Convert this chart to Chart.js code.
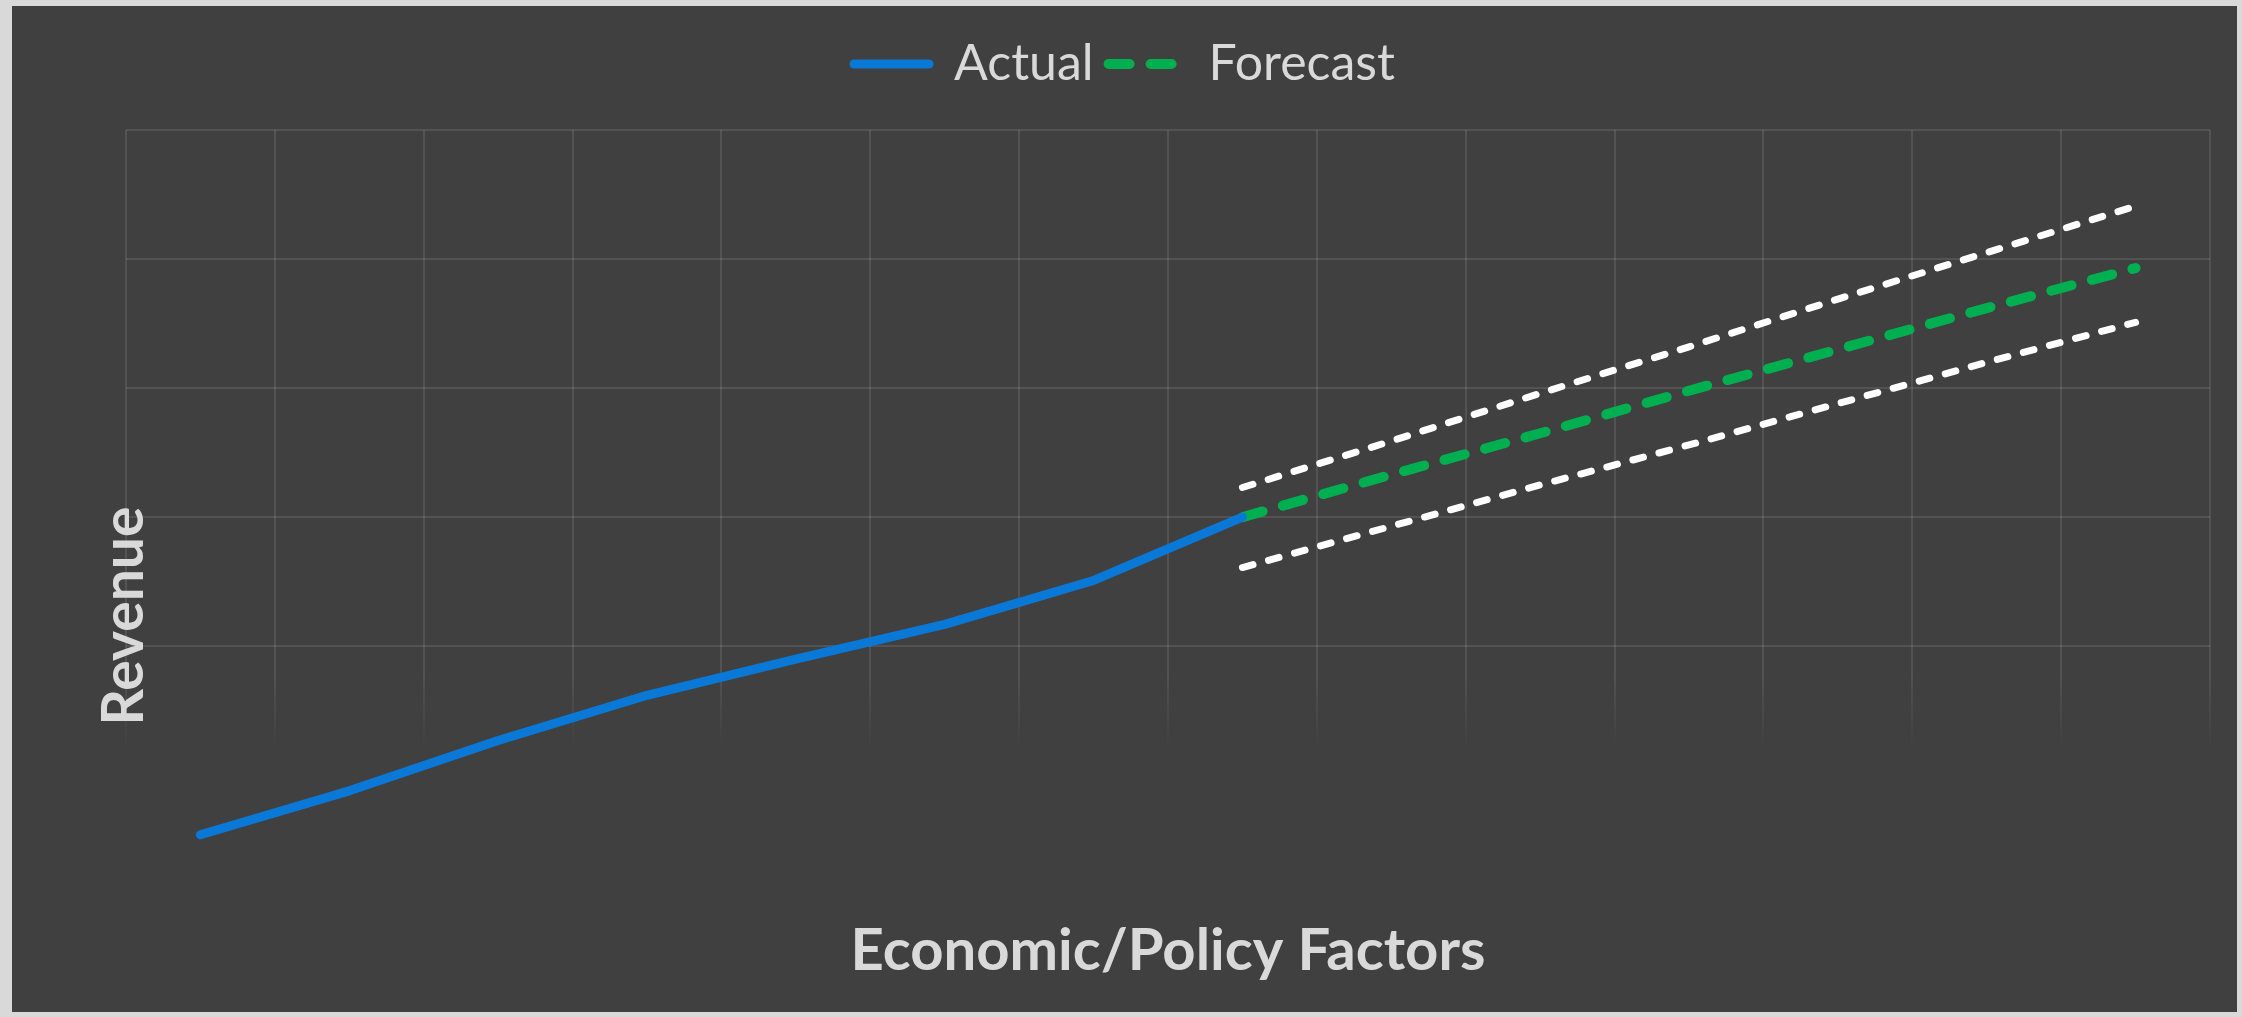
<!DOCTYPE html>
<html>
<head>
<meta charset="utf-8">
<script src="https://cdn.jsdelivr.net/npm/chart.js@4.4.0/dist/chart.umd.min.js"></script>
<style>
  html, body { margin: 0; padding: 0; background: #d9d9d9; }
  #wrap { position: absolute; left: 12px; top: 6px; width: 2225px; height: 1006px; background: #404040; }
</style>
</head>
<body>
<div id="wrap"><canvas id="chart"></canvas></div>
<script>
// periods along the x axis (no tick labels are shown in the picture)
const periods = ['P1', 'P2', 'P3', 'P4', 'P5', 'P6', 'P7', 'P8', 'P9', 'P10', 'P11', 'P12', 'P13', 'P14'];

// revenue (arbitrary units, grid every 10)
const actual   = [5.4, 8.8, 12.7, 16.2, 19.0, 21.7, 25.1, 30.0, null, null, null, null, null, null];
const forecast = [null, null, null, null, null, null, null, 30.0, 33.3, 36.5, 39.8, 43.0, 46.2, 49.3];
const upper    = [null, null, null, null, null, null, null, 32.3, 35.9, 39.6, 43.2, 46.9, 50.5, 54.1];
const lower    = [null, null, null, null, null, null, null, 26.1, 29.3, 32.5, 35.6, 38.8, 42.0, 45.1];

const yMin = 0, yMax = 60, yStep = 10;

const textColor = '#d9d9d9';
const gridColor = 'rgba(255,255,255,0.1)';

Chart.defaults.font.family = 'Lato';

// vertical grid lines fade out towards the bottom
let gridGrad = null, gridKey = '';
function fadeGrid(ctx) {
  const area = ctx.chart.chartArea;
  if (!area) return gridColor;
  const key = area.top + ':' + area.bottom;
  if (!gridGrad || gridKey !== key) {
    gridGrad = ctx.chart.ctx.createLinearGradient(0, area.top, 0, area.bottom);
    gridGrad.addColorStop(0, gridColor);
    gridGrad.addColorStop(0.7, gridColor);
    gridGrad.addColorStop(0.8, 'rgba(255,255,255,0)');
    gridGrad.addColorStop(1, 'rgba(255,255,255,0)');
    gridKey = key;
  }
  return gridGrad;
}

// extra room between legend and plot
const legendGap = {
  id: 'legendGap',
  beforeInit(chart) {
    const fit = chart.legend.fit;
    chart.legend.fit = function () {
      fit.call(this);
      this.height += 31;
    };
  }
};

// y axis title sits lower than centre in the original
const revenueTitle = {
  id: 'revenueTitle',
  afterDraw(chart) {
    const c = chart.ctx;
    c.save();
    c.translate(113, 610);
    c.rotate(-Math.PI / 2);
    c.font = 'bold 57px Lato';
    c.fillStyle = textColor;
    c.textAlign = 'center';
    c.textBaseline = 'middle';
    c.fillText('Revenue', 0, 0);
    c.restore();
  }
};

new Chart(document.getElementById('chart'), {
  type: 'line',
  data: {
    labels: periods,
    datasets: [
      {
        label: 'Actual',
        data: actual,
        borderColor: '#0a78d7',
        backgroundColor: '#0a78d7',
        borderWidth: 9,
        borderCapStyle: 'round',
        borderJoinStyle: 'round',
        pointRadius: 0,
        pointStyle: 'line',
        tension: 0
      },
      {
        label: 'Forecast',
        data: forecast,
        borderColor: '#00b050',
        backgroundColor: '#00b050',
        borderWidth: 10,
        borderDash: [21, 21],
        borderCapStyle: 'round',
        pointRadius: 0,
        pointStyle: 'line',
        tension: 0
      },
      {
        label: 'Upper',
        data: upper,
        borderColor: '#ffffff',
        borderWidth: 7,
        borderDash: [11, 16],
        borderCapStyle: 'round',
        pointRadius: 0,
        tension: 0
      },
      {
        label: 'Lower',
        data: lower,
        borderColor: '#ffffff',
        borderWidth: 7,
        borderDash: [11, 16],
        borderCapStyle: 'round',
        pointRadius: 0,
        tension: 0
      }
    ]
  },
  options: {
    responsive: true,
    maintainAspectRatio: false,
    animation: false,
    layout: { padding: { left: 27, right: 27, top: 18, bottom: 26 } },
    plugins: {
      legend: {
        position: 'top',
        labels: {
          color: textColor,
          font: { size: 50 },
          usePointStyle: true,
          pointStyleWidth: 75,
          padding: 15,
          generateLabels: (chart) => Chart.defaults.plugins.legend.labels.generateLabels(chart).map((item) => {
            const ds = chart.data.datasets[item.datasetIndex];
            item.lineDash = ds.borderDash || [];
            item.lineCap = 'round';
            item.lineWidth = ds.borderWidth;
            return item;
          }),
          filter: (item) => item.datasetIndex < 2
        }
      },
      tooltip: { enabled: false }
    },
    scales: {
      x: {
        offset: true,
        grid: { offset: true, color: fadeGrid, lineWidth: 2, drawTicks: false },
        border: { display: false },
        ticks: { display: false },
        title: {
          display: true,
          text: 'Economic/Policy Factors',
          color: textColor,
          font: { size: 58, weight: 'bold' },
          padding: { top: 12, bottom: 0 }
        }
      },
      y: {
        min: yMin,
        max: yMax,
        afterFit: (scale) => { scale.width = 87; },
        grid: {
          color: (ctx) => (ctx.tick && ctx.tick.value >= 20 ? gridColor : 'rgba(0,0,0,0)'),
          lineWidth: 2,
          drawTicks: false
        },
        border: { display: false },
        ticks: { display: false, stepSize: yStep }
      }
    }
  },
  plugins: [legendGap, revenueTitle]
});
</script>
</body>
</html>
